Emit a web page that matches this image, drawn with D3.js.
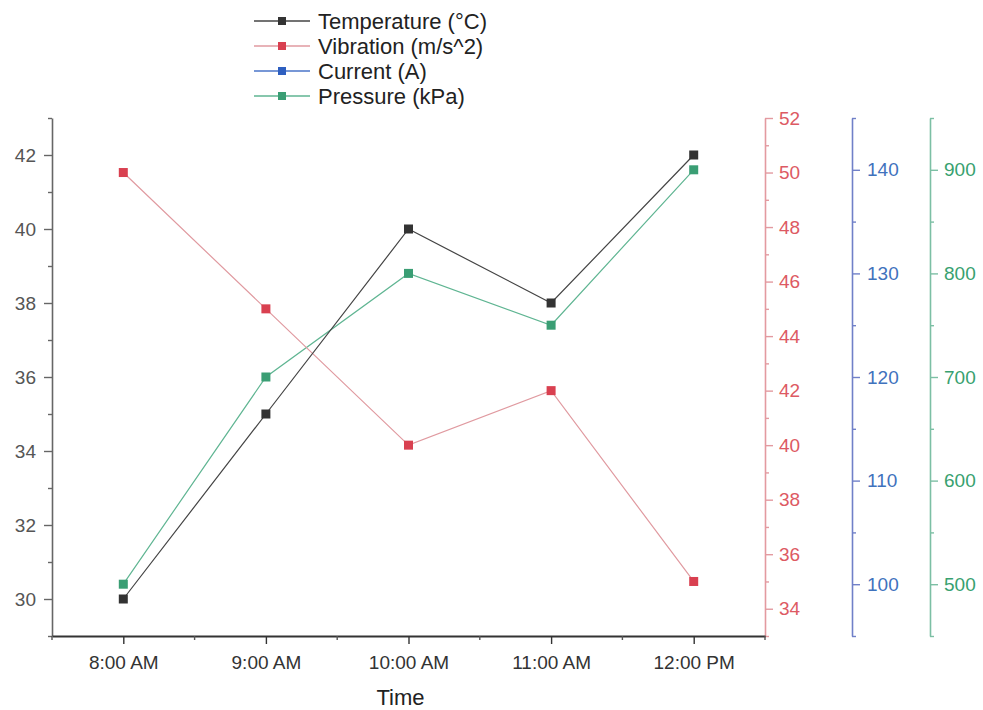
<!DOCTYPE html>
<html>
<head>
<meta charset="utf-8">
<script src="https://cdn.jsdelivr.net/npm/d3@7"></script>
<style>
  body { margin: 0; background: #fff; }
  svg { font-family: "Liberation Sans", Arial, sans-serif; }
  .axis text { font-size: 19px; }
</style>
</head>
<body>
<svg id="chart"></svg>
<script>
const w = 983, h = 710;

// data
const times = ['8:00 AM', '9:00 AM', '10:00 AM', '11:00 AM', '12:00 PM'];
const temperature = [30, 35, 40, 38, 42];
const vibration = [50, 45, 40, 42, 35];
const pressure = [500, 700, 800, 750, 900];
const current = []; // listed in the legend, no points drawn in the picture

const tempTicks = [30, 32, 34, 36, 38, 40, 42];
const vibTicks = [34, 36, 38, 40, 42, 44, 46, 48, 50, 52];
const curTicks = [100, 110, 120, 130, 140];
const presTicks = [500, 600, 700, 800, 900];

const margins = { left: 52, right: 765, top: 118, bottom: 636 };

const chart = d3.select('#chart')
  .attr('width', w)
  .attr('height', h);

const xScale = d3.scalePoint()
  .domain(times)
  .range([margins.left, margins.right])
  .padding(0.5);

const yTemp = d3.scaleLinear().domain([29, 43]).range([margins.bottom, margins.top]);
const yVib = d3.scaleLinear().domain([33, 52]).range([margins.bottom, margins.top]);
const yCur = d3.scaleLinear().domain([95, 145]).range([margins.bottom, margins.top]);
const yPres = d3.scaleLinear().domain([450, 950]).range([margins.bottom, margins.top]);

// helper: one axis with major labelled ticks and minor ticks
function drawAxis(axisFn, scale, x, y, majors, minors, lineColor, textColor, pad) {
  const g = chart.append('g')
    .attr('class', 'axis')
    .attr('transform', `translate(${x}, ${y})`);
  g.append('g')
    .call(axisFn(scale).tickValues(minors).tickSize(4).tickSizeOuter(0).tickFormat(''))
    .call(s => s.select('.domain').remove());
  g.append('g')
    .call(axisFn(scale).tickValues(majors).tickSize(8).tickSizeOuter(0).tickPadding(pad))
    .call(s => s.select('.domain').attr('stroke-width', 1.6));
  g.selectAll('line').attr('stroke', lineColor).attr('stroke-width', 1.4);
  g.selectAll('.domain').attr('stroke', lineColor);
  g.selectAll('text').attr('fill', textColor);
  return g;
}

const range = (a, b, s) => d3.range(a, b + s / 2, s);

// left temperature axis
drawAxis(d3.axisLeft, yTemp, margins.left, 0, tempTicks,
  range(29, 43, 1).filter(v => !tempTicks.includes(v)), '#666', '#555', 8);

// right axes
drawAxis(d3.axisRight, yVib, margins.right, 0, vibTicks,
  range(33, 51, 2), '#e39aa0', '#dd5a63', 6);
drawAxis(d3.axisRight, yCur, 852, 0, curTicks,
  range(95, 145, 10), '#7080c8', '#3f72bd', 7);
drawAxis(d3.axisRight, yPres, 930, 0, presTicks,
  range(450, 950, 100), '#7cbfa4', '#38a16f', 6);

// x axis
const xg = chart.append('g')
  .attr('class', 'axis')
  .attr('transform', `translate(0, ${margins.bottom})`);
const halfStep = xScale.step() / 2;
xg.append('g')
  .call(d3.axisBottom(xScale).tickSize(0).tickSizeOuter(0).tickFormat(''))
  .selectAll('.domain').attr('stroke', '#333').attr('stroke-width', 1.8);
xg.selectAll('.minor')
  .data([times[0]].concat(times))
  .join('line')
  .attr('class', 'minor')
  .attr('x1', (d, i) => i === 0 ? xScale(d) - halfStep : xScale(d) + halfStep)
  .attr('x2', (d, i) => i === 0 ? xScale(d) - halfStep : xScale(d) + halfStep)
  .attr('y1', 0).attr('y2', 4)
  .attr('stroke', '#555').attr('stroke-width', 1.4);
const xMajor = xg.append('g')
  .call(d3.axisBottom(xScale).tickSize(8).tickSizeOuter(0).tickPadding(12));
xMajor.select('.domain').remove();
xMajor.selectAll('line').attr('stroke', '#333').attr('stroke-width', 1.4);
xMajor.selectAll('text').attr('fill', '#333');

chart.append('text')
  .attr('x', xScale('10:00 AM') - 8)
  .attr('y', 705)
  .attr('text-anchor', 'middle')
  .attr('fill', '#222')
  .style('font-size', '22px')
  .text('Time');

// series
const series = [
  { name: 'Pressure (kPa)', values: pressure, scale: yPres, line: '#5fb592', marker: '#3a9e74' },
  { name: 'Vibration (m/s^2)', values: vibration, scale: yVib, line: '#e09aa0', marker: '#d94050' },
  { name: 'Current (A)', values: current, scale: yCur, line: '#4a74c9', marker: '#2e5fc0' },
  { name: 'Temperature (°C)', values: temperature, scale: yTemp, line: '#444', marker: '#333' }
];

series.forEach(s => {
  const pts = s.values.map((v, i) => [xScale(times[i]), s.scale(v)]);
  chart.append('path')
    .datum(pts)
    .attr('fill', 'none')
    .attr('stroke', s.line)
    .attr('stroke-width', 1.2)
    .attr('d', d3.line());
  chart.append('g').selectAll('rect')
    .data(pts)
    .join('rect')
    .attr('x', d => d[0] - 4.5)
    .attr('y', d => d[1] - 4.5)
    .attr('width', 9)
    .attr('height', 9)
    .attr('fill', s.marker);
});

// legend
const legendItems = [
  { name: 'Temperature (°C)', line: '#444', marker: '#333' },
  { name: 'Vibration (m/s^2)', line: '#e09aa0', marker: '#d94050' },
  { name: 'Current (A)', line: '#4a74c9', marker: '#2e5fc0' },
  { name: 'Pressure (kPa)', line: '#5fb592', marker: '#3a9e74' }
];
const legend = chart.append('g').attr('transform', 'translate(254, 21)');
legendItems.forEach((d, i) => {
  const row = legend.append('g').attr('transform', `translate(0, ${i * 25})`);
  row.append('line').attr('x1', 0).attr('x2', 56).attr('y1', 0).attr('y2', 0)
    .attr('stroke', d.line).attr('stroke-width', 1.4);
  row.append('rect').attr('x', 24).attr('y', -4).attr('width', 8).attr('height', 8)
    .attr('fill', d.marker);
  row.append('text').attr('x', 64).attr('y', 8)
    .attr('fill', '#222')
    .style('font-size', '22px')
    .text(d.name);
});
</script>
</body>
</html>
